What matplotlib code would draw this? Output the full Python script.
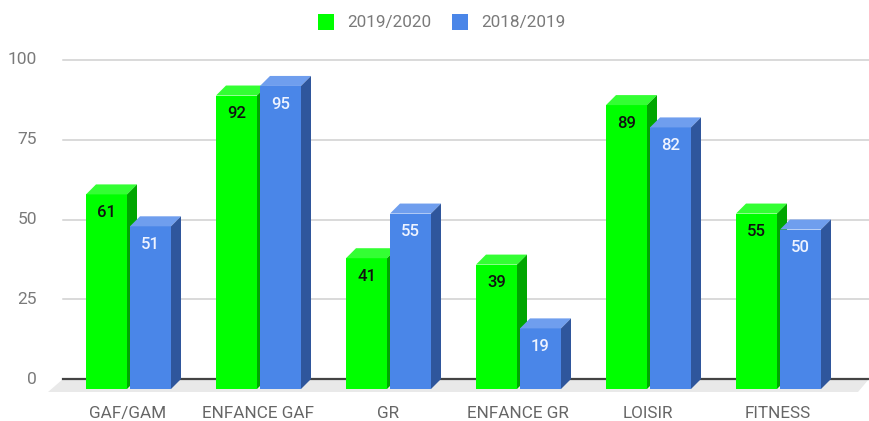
import matplotlib
matplotlib.use("Agg")
import matplotlib.pyplot as plt
from matplotlib.patches import Polygon
import numpy as np

plt.rcParams['font.family'] = ['Roboto', 'DejaVu Sans']

# data
categories = ["GAF/GAM", "ENFANCE GAF", "GR", "ENFANCE GR", "LOISIR", "FITNESS"]
series_names = ["2019/2020", "2018/2019"]
vals_2019_2020 = [61, 92, 41, 39, 89, 55]
vals_2018_2019 = [51, 95, 55, 19, 82, 50]
yticks = [0, 25, 50, 75, 100]

# colours: front, top, side, label
styles = [
    ("#00ff00", "#33ff33", "#00a600", "#111111"),
    ("#4a86e8", "#6f9eee", "#2f569c", "#eef3ff"),
]

W, H = 869, 421
fig = plt.figure(figsize=(W / 100, H / 100), dpi=100)
# axes: x from 63px to 869px, value 0 at y=379px, 100 at y=60px
ax = fig.add_axes([63 / W, (H - 379) / H, (W - 63) / W, (379 - 60) / H])
ax.set_xlim(-0.5, 5.7)
ax.set_ylim(0, 100)
ax.axis("off")

px_x = 130.0          # px per category unit
px_y = 319 / 100.0    # px per value unit
dx = 10 / px_x        # depth offset
dy = 10 / px_y
bw = 41 / px_x

# gridlines
for t in yticks[1:]:
    ax.plot([-0.5, 5.7], [t, t], color="#d0d0d0", lw=1.1, zorder=1, clip_on=False)
    ax.text(-0.5 - 26 / px_x, t, str(t), ha="right", va="center",
            fontsize=12.5, color="#7a7a7a")
ax.text(-0.5 - 26 / px_x, 0, "0", ha="right", va="center", fontsize=12.5, color="#7a7a7a")

# floor
fy = 13 / px_y
floor = Polygon([(-0.5, 0), (5.7, 0), (5.7 - 11 / px_x, -fy), (-0.5 - 15 / px_x, -fy)],
                closed=True, facecolor="#e9e9e9", edgecolor="none", zorder=1, clip_on=False)
ax.add_patch(floor)
ax.plot([-0.5, 5.7], [0, 0], color="#444444", lw=1.6, zorder=2, clip_on=False)

x = np.arange(len(categories))
offsets = [-bw - 1 / px_x, 2 / px_x]
for i, c in enumerate(x):
    for s, vals in enumerate([vals_2019_2020, vals_2018_2019]):
        v = vals[i]
        front, top, side, lab = styles[s]
        x0 = c + offsets[s]
        z = 3 + s
        ax.add_patch(Polygon([(x0, -dy), (x0 + bw, -dy), (x0 + bw, v - dy), (x0, v - dy)],
                             closed=True, facecolor=front, edgecolor="none", zorder=z, clip_on=False))
        ax.add_patch(Polygon([(x0, v - dy), (x0 + bw, v - dy), (x0 + bw + dx, v), (x0 + dx, v)],
                             closed=True, facecolor=top, edgecolor="none", zorder=z, clip_on=False))
        ax.add_patch(Polygon([(x0 + bw, -dy), (x0 + bw + dx, 0), (x0 + bw + dx, v), (x0 + bw, v - dy)],
                             closed=True, facecolor=side, edgecolor="none", zorder=z, clip_on=False))
        ax.text(x0 + bw / 2, v - 8.9, str(v), ha="center", va="center",
                fontsize=12, fontweight="medium", color=lab, zorder=10)
    ax.text(c, -10.7, categories[i], ha="center", va="center", fontsize=12.3,
            color="#666666", clip_on=False)

# legend
lx = [318, 452]
for s, name in enumerate(series_names):
    fig.patches.append(plt.Rectangle((lx[s] / W, (H - 30) / H), 16 / W, 16 / H,
                                     transform=fig.transFigure, facecolor=styles[s][0],
                                     edgecolor="none"))
    fig.text((lx[s] + 29) / W, (H - 22) / H, name, ha="left", va="center",
             fontsize=12.3, color="#7a7a7a")

fig.savefig("out.png", dpi=100)
